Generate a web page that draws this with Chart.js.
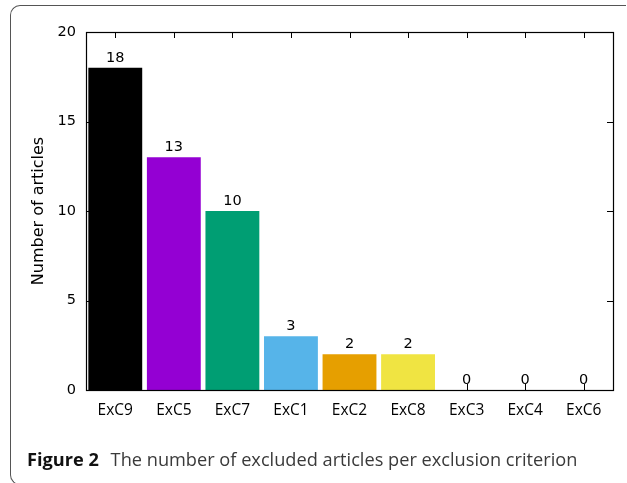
<!DOCTYPE html>
<html>
<head>
<meta charset="utf-8">
<script src="https://cdn.jsdelivr.net/npm/chart.js@4/dist/chart.umd.min.js"></script>
<style>
  html, body { margin: 0; padding: 0; background: #fff; }
  body { width: 627px; height: 483px; position: relative; overflow: hidden; }
  #frame {
    position: absolute; left: 10px; top: 5px; width: 616px; height: 480px;
    border: 1.5px solid #555; border-right: none; border-radius: 10px 0 0 10px;
    box-sizing: border-box;
  }
  #chart { position: absolute; left: 0; top: 0; }
  #caption {
    position: absolute; left: 27px; top: 447px;
    font-family: "Open Sans", "Noto Sans", sans-serif; font-size: 18.2px;
    color: #3a3a3a; white-space: nowrap;
  }
  #caption b { color: #111; font-weight: 700; margin-right: 7px; }
</style>
</head>
<body>
<div id="frame"></div>
<canvas id="chart" width="627" height="483"></canvas>
<div id="caption"><b>Figure 2</b> The number of excluded articles per exclusion criterion</div>
<script>
// Exclusion criteria and how many articles each one removed
const categories = ['ExC9', 'ExC5', 'ExC7', 'ExC1', 'ExC2', 'ExC8', 'ExC3', 'ExC4', 'ExC6'];
const articleCounts = [18, 13, 10, 3, 2, 2, 0, 0, 0];
const yTickValues = [0, 5, 10, 15, 20];

const barColors = ['#000000', '#9400d3', '#009e73', '#56b4e9', '#e69f00', '#f0e442', '#0072b2', '#e51e10', '#000000'];

const TICK_LEN = 6;

// Draws the closed plot frame, inward tick marks and the value above each bar
const framePlugin = {
  id: 'frameAndLabels',
  beforeDatasetsDraw(chart) {
    const { ctx, chartArea: a, scales } = chart;
    ctx.save();
    ctx.strokeStyle = '#000';
    ctx.lineWidth = 1;
    ctx.beginPath();
    yTickValues.forEach(v => {
      const y = Math.round(scales.y.getPixelForValue(v)) + 0.5;
      ctx.moveTo(a.left, y); ctx.lineTo(a.left + TICK_LEN, y);
      ctx.moveTo(a.right, y); ctx.lineTo(a.right - TICK_LEN, y);
    });
    categories.forEach((c, i) => {
      const x = Math.round(scales.x.getPixelForValue(i)) + 0.5;
      ctx.moveTo(x, a.bottom); ctx.lineTo(x, a.bottom - TICK_LEN);
    });
    ctx.stroke();
    ctx.restore();
  },
  afterDatasetsDraw(chart) {
    const { ctx, chartArea: a, scales } = chart;
    ctx.save();
    ctx.strokeStyle = '#000';
    ctx.lineWidth = 1;
    ctx.beginPath();
    categories.forEach((c, i) => {
      const x = Math.round(scales.x.getPixelForValue(i)) + 0.5;
      ctx.moveTo(x, a.top); ctx.lineTo(x, a.top + TICK_LEN);
    });
    ctx.stroke();
    ctx.lineWidth = 1.2;
    ctx.strokeRect(Math.round(a.left) + 0.5, Math.round(a.top) + 0.5,
                   Math.round(a.right - a.left), Math.round(a.bottom - a.top));

    const meta = chart.getDatasetMeta(0);
    ctx.fillStyle = '#000';
    ctx.font = '14.5px "DejaVu Sans"';
    ctx.textAlign = 'center';
    ctx.textBaseline = 'alphabetic';
    meta.data.forEach((bar, i) => {
      ctx.fillText(String(articleCounts[i]), bar.x, bar.y - 6);
    });
    ctx.restore();
  }
};

new Chart(document.getElementById('chart'), {
  type: 'bar',
  data: {
    labels: categories,
    datasets: [{
      data: articleCounts,
      backgroundColor: barColors,
      borderWidth: 0,
      barPercentage: 0.92,
      categoryPercentage: 1.0
    }]
  },
  options: {
    responsive: false,
    animation: false,
    devicePixelRatio: 1,
    layout: { padding: { left: 0, top: 32, right: 14, bottom: 0 } },
    plugins: { legend: { display: false }, tooltip: { enabled: false } },
    scales: {
      x: {
        offset: true,
        grid: { display: false, drawTicks: false },
        border: { display: false },
        ticks: {
          color: '#000',
          padding: 11,
          font: { family: '"Open Sans", "Noto Sans", sans-serif', size: 15.5 }
        },
        afterFit(scale) { scale.height = 93; }
      },
      y: {
        min: 0,
        max: 20,
        grid: { display: false, drawTicks: false },
        border: { display: false },
        ticks: {
          stepSize: 5,
          color: '#000',
          padding: 10,
          font: { family: '"DejaVu Sans", sans-serif', size: 14.5 }
        },
        title: {
          display: true,
          text: 'Number of articles',
          color: '#000',
          padding: { top: 29, bottom: 0 },
          font: { family: '"DejaVu Sans", sans-serif', size: 16 }
        },
        afterFit(scale) { scale.width = 86; }
      }
    }
  },
  plugins: [framePlugin]
});
</script>
</body>
</html>
